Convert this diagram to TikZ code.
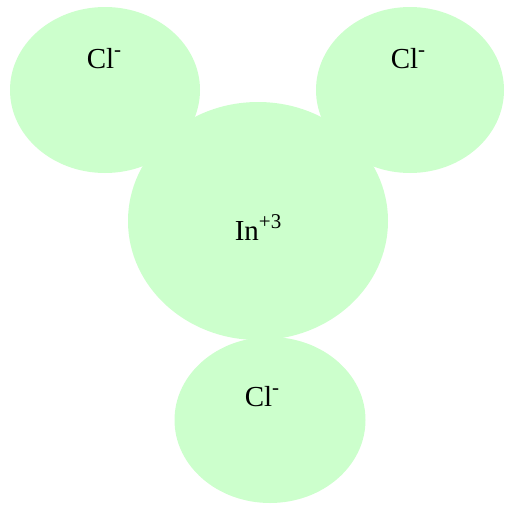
\documentclass[tikz,border=0pt]{standalone}
\usepackage{fontspec}
\setmainfont{Liberation Serif}
\usetikzlibrary{shapes.geometric}
\definecolor{ionfill}{RGB}{204,255,204}
\newcommand{\charge}[1]{\raisebox{0.4em}{\fontsize{21}{21}\selectfont #1}}

\begin{document}
\begin{tikzpicture}[x=1pt,y=-1pt,
  ion/.style={ellipse, fill=ionfill, draw=none, inner sep=0pt},
  ionlabel/.style={font=\fontsize{29}{32}\selectfont, inner sep=0pt, anchor=base}]
  \useasboundingbox (0,0) rectangle (504,506);
  % chloride ions
  \node[ion, minimum width=190pt, minimum height=166pt] (clA) at (105,90) {};
  \node[ion, minimum width=188pt, minimum height=166pt] (clB) at (410,90) {};
  \node[ion, minimum width=191pt, minimum height=166pt] (clC) at (270,420) {};
  % indium ion
  \node[ion, minimum width=260pt, minimum height=238pt] (in) at (258,221) {};
  % labels
  \node[ionlabel] (clAtext) at (104,68) {Cl\charge{-}};
  \node[ionlabel] (clBtext) at (408,68) {Cl\charge{-}};
  \node[ionlabel] (intext) at (258,240) {In\charge{+3}};
  \node[ionlabel] (clCtext) at (262,406) {Cl\charge{-}};
\end{tikzpicture}
\end{document}
